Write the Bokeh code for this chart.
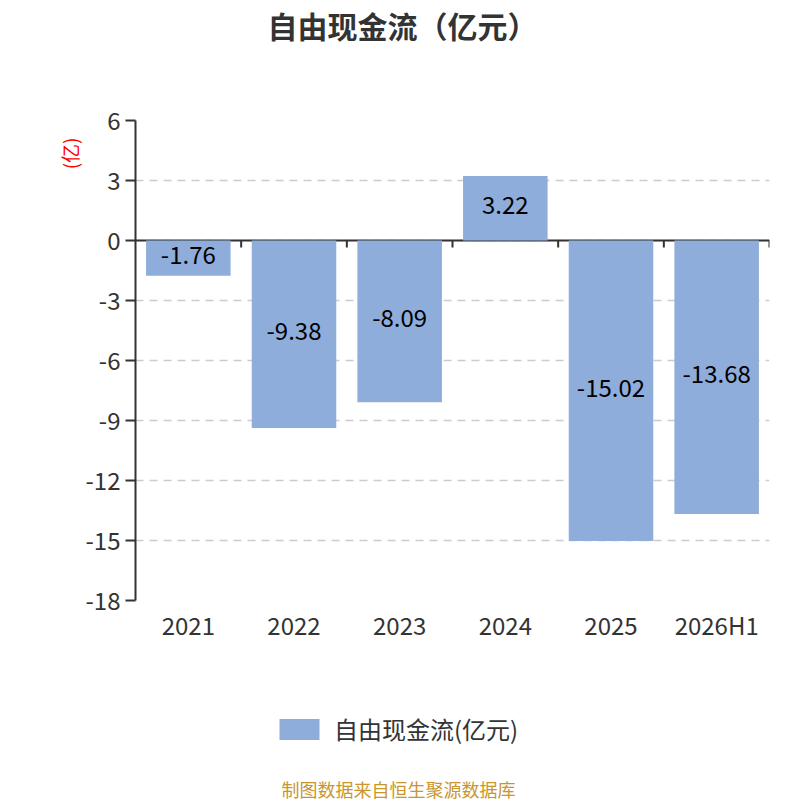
from bokeh.plotting import figure
from bokeh.models import (ColumnDataSource, Range1d, FixedTicker, Legend, LegendItem,
                          Title, Label)
from bokeh.layouts import column
from bokeh.embed import file_html
from bokeh.resources import INLINE
from bokeh.core.properties import value

categories = ["2021", "2022", "2023", "2024", "2025", "2026H1"]
values = [-1.76, -9.38, -8.09, 3.22, -15.02, -13.68]
y_ticks = [-18, -15, -12, -9, -6, -3, 0, 3, 6]
series_name = "自由现金流(亿元)"
title_text = "自由现金流（亿元）"
unit_text = "(亿)"
footer_text = "制图数据来自恒生聚源数据库"

FONT = "Noto Sans CJK SC"
BAR = "#8eaddb"
DARK = "#333333"

xs = [i + 0.5 for i in range(len(categories))]
src = ColumnDataSource(dict(x=xs, top=values, mid=[v / 2 for v in values],
                            lab=["%.2f" % v for v in values]))

p = figure(width=800, height=650, output_backend="svg", toolbar_location=None,
           x_range=Range1d(0, len(categories)), y_range=Range1d(-18, 6),
           min_border_left=135, min_border_right=31, min_border_top=120,
           min_border_bottom=50, title=None)
p.outline_line_color = None
p.background_fill_color = "white"

# top: spacer (next to frame) then title (outermost)
p.add_layout(Title(text=" ", text_font_size="64px", standoff=0), "above")
p.add_layout(Title(text=title_text, align="left", text_font=FONT,
                   text_font_size="30px", text_font_style="bold",
                   text_line_height=1.0, offset=132,
                   text_color=DARK, standoff=0), "above")

# axes
p.xaxis.ticker = FixedTicker(ticks=xs)
p.xaxis.major_label_overrides = {x: c for x, c in zip(xs, categories)}
p.xaxis.axis_line_color = None
p.xaxis.major_tick_line_color = None
p.xaxis.major_tick_out = 0
p.xaxis.major_tick_in = 0
p.xaxis.minor_tick_line_color = None
p.xaxis.major_label_text_font = FONT
p.xaxis.major_label_text_font_size = "24px"
p.xaxis.major_label_text_color = DARK
p.xaxis.major_label_standoff = 6

p.yaxis.ticker = FixedTicker(ticks=y_ticks)
p.yaxis.major_label_overrides = {t: str(t) for t in y_ticks}
p.yaxis.axis_line_color = DARK
p.yaxis.axis_line_width = 2
p.yaxis.major_tick_line_color = DARK
p.yaxis.major_tick_line_width = 2
p.yaxis.major_tick_out = 10
p.yaxis.major_tick_in = 0
p.yaxis.minor_tick_line_color = None
p.yaxis.major_label_text_font = FONT
p.yaxis.major_label_text_font_size = "24px"
p.yaxis.major_label_text_color = DARK
p.yaxis.major_label_standoff = 5

p.xgrid.grid_line_color = None
p.ygrid.grid_line_color = "#cccccc"
p.ygrid.grid_line_dash = "8 6"
p.ygrid.grid_line_width = 1.5

# unit label on the left, near the top
p.add_layout(Title(text=unit_text, align="right", text_font=FONT,
                   text_font_size="19px", text_font_style="normal",
                   text_color="red", standoff=0, offset=17), "left")

# zero axis line with boundary ticks
bounds = list(range(1, len(categories) + 1))
p.segment(x0=0, y0=0, x1=len(categories), y1=0, line_color=DARK, line_width=2)
p.segment(x0=bounds, y0=[0] * len(bounds), x1=bounds, y1=[-0.35] * len(bounds),
          line_color=DARK, line_width=2)

p.vbar(x="x", top="top", bottom=0, width=0.8, source=src,
       fill_color=BAR, line_color=None)

p.text(x="x", y="mid", text="lab", source=src, text_align="center",
       text_baseline="middle", text_font=value(FONT), text_font_size="24px",
       text_color="#000000", y_offset=-3)

# bottom strip: legend + footer
p2 = figure(width=800, height=150, output_backend="svg", toolbar_location=None,
            x_range=Range1d(0, 800), y_range=Range1d(1000, 1150),
            min_border=0, x_axis_location=None, y_axis_location=None)
p2.outline_line_color = None
p2.grid.grid_line_color = None
legend_bars = p2.vbar(x="x", top="top", bottom=0, width=0.8, source=src,
                      fill_color=BAR, line_color=None)

legend = Legend(items=[LegendItem(label=series_name, renderers=[legend_bars])],
                orientation="horizontal", location=(139, 54),
                glyph_width=50, glyph_height=26, label_text_font=FONT,
                label_text_font_size="24px", label_text_color=DARK,
                border_line_color=None, background_fill_alpha=0,
                margin=0, padding=0, spacing=0, label_standoff=10)
p2.add_layout(legend, "center")

p2.add_layout(Label(x=263, y=12, x_units="screen", y_units="screen", text=footer_text,
                    text_color="#c9962e", text_font=FONT, text_font_size="18px",
                    text_align="center", text_baseline="middle"))

layout = column(p, p2, spacing=0)
open("out.html", "w").write(file_html(layout, INLINE))
